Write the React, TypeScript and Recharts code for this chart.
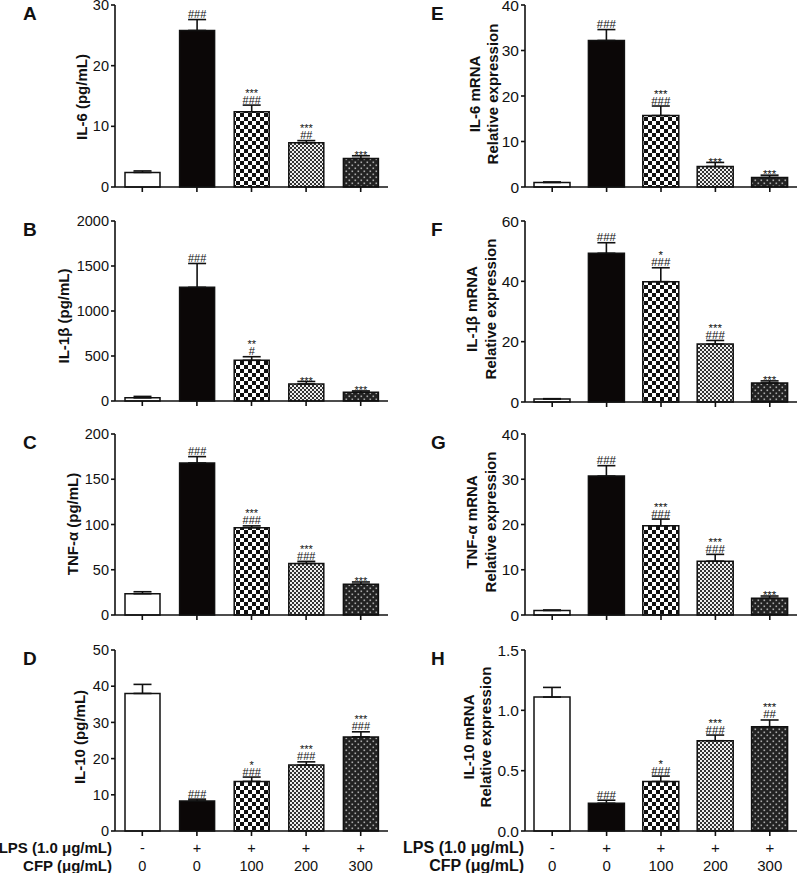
import { Bar, BarChart, Cell, ErrorBar, LabelList, XAxis, YAxis } from 'recharts'

const groups = ['Control', 'LPS', 'LPS+CFP100', 'LPS+CFP200', 'LPS+CFP300']
const lpsRow = ['-', '+', '+', '+', '+']
const cfpRow = ['0', '0', '100', '200', '300']
const barFills = ['#ffffff', '#0b0707', 'url(#chk-large)', 'url(#chk-fine)', 'url(#dots)']

// A  IL-6 protein (pg/mL)
const il6Values = [2.4, 25.8, 12.4, 7.3, 4.7]
const il6Errors = [0.25, 1.8, 1.1, 0.35, 0.45]
const il6Stars = ['', '', '***', '***', '***']
const il6Hashes = ['', '###', '###', '##', '']

// B  IL-1β protein (pg/mL)
const il1bValues = [35, 1263, 452, 189, 97]
const il1bErrors = [16, 265, 40, 28, 15]
const il1bStars = ['', '', '**', '***', '***']
const il1bHashes = ['', '###', '#', '', '']

// C  TNF-α protein (pg/mL)
const tnfValues = [23.5, 168, 96.5, 57, 34]
const tnfErrors = [2.2, 7, 2, 2.3, 2.5]
const tnfStars = ['', '', '***', '***', '***']
const tnfHashes = ['', '###', '###', '###', '']

// D  IL-10 protein (pg/mL)
const il10Values = [38, 8.3, 13.7, 18.2, 26]
const il10Errors = [2.5, 0.5, 1.2, 0.9, 1.4]
const il10Stars = ['', '', '*', '***', '***']
const il10Hashes = ['', '###', '###', '###', '###']

// E  IL-6 mRNA
const il6mValues = [1.0, 32.2, 15.7, 4.5, 2.1]
const il6mErrors = [0.1, 2.4, 2.1, 0.9, 0.5]
const il6mStars = ['', '', '***', '***', '***']
const il6mHashes = ['', '###', '###', '', '']

// F  IL-1β mRNA
const il1bmValues = [1.0, 49.3, 39.9, 19.2, 6.3]
const il1bmErrors = [0.1, 3.5, 4.6, 1.2, 0.7]
const il1bmStars = ['', '', '*', '***', '***']
const il1bmHashes = ['', '###', '###', '###', '']

// G  TNF-α mRNA
const tnfmValues = [1.0, 30.7, 19.7, 11.9, 3.7]
const tnfmErrors = [0.1, 2.3, 1.5, 1.5, 0.5]
const tnfmStars = ['', '', '***', '***', '***']
const tnfmHashes = ['', '###', '###', '###', '']

// H  IL-10 mRNA
const il10mValues = [1.11, 0.23, 0.41, 0.748, 0.864]
const il10mErrors = [0.08, 0.025, 0.045, 0.047, 0.056]
const il10mStars = ['', '', '*', '***', '***']
const il10mHashes = ['', '###', '###', '###', '##']

type PanelDef = {
  letter: string
  title: string[]
  values: number[]
  errors: number[]
  stars: string[]
  hashes: string[]
  max: number
  ticks: number[]
  decimals: number
  col: 0 | 1
  plotTop: number
  plotBottom: number
  titleX: number[]
  titleY: number
  bottom?: boolean
}

const panels: PanelDef[] = [
  { letter: 'A', title: ['IL-6 (pg/mL)'], values: il6Values, errors: il6Errors, stars: il6Stars, hashes: il6Hashes, max: 30, ticks: [0, 10, 20, 30], decimals: 0, col: 0, plotTop: 5, plotBottom: 187, titleX: [81], titleY: 97 },
  { letter: 'B', title: ['IL-1β (pg/mL)'], values: il1bValues, errors: il1bErrors, stars: il1bStars, hashes: il1bHashes, max: 2000, ticks: [0, 500, 1000, 1500, 2000], decimals: 0, col: 0, plotTop: 221, plotBottom: 401, titleX: [63], titleY: 316 },
  { letter: 'C', title: ['TNF-α (pg/mL)'], values: tnfValues, errors: tnfErrors, stars: tnfStars, hashes: tnfHashes, max: 200, ticks: [0, 50, 100, 150, 200], decimals: 0, col: 0, plotTop: 434, plotBottom: 615, titleX: [72], titleY: 524 },
  { letter: 'D', title: ['IL-10 (pg/mL)'], values: il10Values, errors: il10Errors, stars: il10Stars, hashes: il10Hashes, max: 50, ticks: [0, 10, 20, 30, 40, 50], decimals: 0, col: 0, plotTop: 650, plotBottom: 831, titleX: [79.5], titleY: 737, bottom: true },
  { letter: 'E', title: ['IL-6 mRNA', 'Relative expression'], values: il6mValues, errors: il6mErrors, stars: il6mStars, hashes: il6mHashes, max: 40, ticks: [0, 10, 20, 30, 40], decimals: 0, col: 1, plotTop: 5, plotBottom: 187, titleX: [474, 492], titleY: 94 },
  { letter: 'F', title: ['IL-1β mRNA', 'Relative expression'], values: il1bmValues, errors: il1bmErrors, stars: il1bmStars, hashes: il1bmHashes, max: 60, ticks: [0, 20, 40, 60], decimals: 0, col: 1, plotTop: 221, plotBottom: 402, titleX: [471.5, 490], titleY: 309 },
  { letter: 'G', title: ['TNF-α mRNA', 'Relative expression'], values: tnfmValues, errors: tnfmErrors, stars: tnfmStars, hashes: tnfmHashes, max: 40, ticks: [0, 10, 20, 30, 40], decimals: 0, col: 1, plotTop: 434, plotBottom: 615, titleX: [471.5, 490], titleY: 522 },
  { letter: 'H', title: ['IL-10 mRNA', 'Relative expression'], values: il10mValues, errors: il10mErrors, stars: il10mStars, hashes: il10mHashes, max: 1.5, ticks: [0, 0.5, 1.0, 1.5], decimals: 1, col: 1, plotTop: 650, plotBottom: 831, titleX: [468, 485.5], titleY: 737, bottom: true },
]

const INK = '#111'
const TOP_PAD = 12

function Marks(props: any) {
  const { def, value } = props
  const vb = props.viewBox ?? {}
  const x = props.x ?? vb.x
  const y = props.y ?? vb.y
  const w = props.width ?? vb.width
  const h = props.height ?? vb.height
  const i = props.index ?? def.values.indexOf(value)
  if (x == null || i < 0) return null
  const cx = x + w / 2
  const capY = y - (def.errors[i] * Math.abs(h)) / def.values[i]
  const hash = def.hashes[i]
  const star = def.stars[i]
  const size = def.col === 0 ? 11 : 11.5
  return (
    <g fill={INK} fontSize={size} textAnchor="middle">
      {hash && (
        <text x={cx} y={capY - 1.5}>
          {hash}
        </text>
      )}
      {star && (
        <text x={cx} y={hash ? capY - 8.5 : capY + 3.3}>
          {star}
        </text>
      )}
    </g>
  )
}

function GroupTick(props: any) {
  const { x, y, index, bottom, fontSize } = props
  if (!bottom) return <g />
  return (
    <g fill={INK} fontSize={fontSize} textAnchor="middle">
      <text x={x} y={y + 15}>
        {lpsRow[index]}
      </text>
      <text x={x} y={y + 33}>
        {cfpRow[index]}
      </text>
    </g>
  )
}

function Panel({ def }: { def: PanelDef }) {
  const data = groups.map((group, i) => ({
    group,
    value: def.values[i],
    err: [0, def.errors[i]],
  }))
  const left = def.col === 0 ? 0 : 400
  const marginLeft = def.col === 0 ? 55 : 65
  const plotW = def.col === 0 ? 273 : 272
  const xAxisH = def.bottom ? 45 : 12
  const width = marginLeft + 60 + plotW + 3
  const height = TOP_PAD + (def.plotBottom - def.plotTop) + xAxisH
  const tickFont = def.col === 0 ? 14.5 : 15.5
  const axisStyle = { stroke: INK, strokeWidth: 1.6 }

  return (
    <div style={{ position: 'absolute', left, top: def.plotTop - TOP_PAD }}>
      <BarChart
        width={width}
        height={height}
        data={data}
        margin={{ top: TOP_PAD, right: 3, bottom: 0, left: marginLeft }}
        barSize={def.col === 0 ? 35 : 36}
      >
        <XAxis
          dataKey="group"
          interval={0}
          height={xAxisH}
          tickSize={5}
          tickLine={axisStyle}
          axisLine={axisStyle}
          tick={<GroupTick bottom={def.bottom} fontSize={def.col === 0 ? 14.5 : 15} />}
        />
        <YAxis
          width={60}
          domain={[0, def.max]}
          ticks={def.ticks}
          interval={0}
          tickSize={4}
          tickMargin={2}
          tickLine={axisStyle}
          axisLine={axisStyle}
          tick={{ fill: INK, fontSize: tickFont }}
          tickFormatter={(v: number) => v.toFixed(def.decimals)}
        />
        <Bar dataKey="value" isAnimationActive={false}>
          {data.map((d, i) => (
            <Cell key={d.group} fill={barFills[i]} stroke={INK} strokeWidth={1.5} />
          ))}
          <ErrorBar dataKey="err" width={9} stroke={INK} strokeWidth={1.6} isAnimationActive={false} />
          <LabelList dataKey="value" content={(p: any) => <Marks {...p} def={def} />} />
        </Bar>
      </BarChart>
    </div>
  )
}

function Patterns() {
  return (
    <svg width={0} height={0} style={{ position: 'absolute' }}>
      <defs>
        <pattern id="chk-large" width={8} height={8} patternUnits="userSpaceOnUse">
          <rect width={8} height={8} fill="#fff" />
          <rect width={4} height={4} fill="#111" />
          <rect x={4} y={4} width={4} height={4} fill="#111" />
        </pattern>
        <pattern id="chk-fine" width={4} height={4} patternUnits="userSpaceOnUse">
          <rect width={4} height={4} fill="#eee" />
          <rect width={2} height={2} fill="#333" />
          <rect x={2} y={2} width={2} height={2} fill="#333" />
        </pattern>
        <pattern id="dots" width={6} height={6} patternUnits="userSpaceOnUse">
          <rect width={6} height={6} fill="#222" />
          <rect x={0.5} y={0.5} width={1.6} height={1.6} fill="#aaa" />
          <rect x={3.5} y={3.5} width={1.6} height={1.6} fill="#aaa" />
        </pattern>
      </defs>
    </svg>
  )
}

export default function App() {
  return (
    <div
      style={{
        position: 'absolute',
        left: 0,
        top: 0,
        width: 800,
        height: 873,
        overflow: 'hidden',
        background: '#fff',
        fontFamily: '"Liberation Sans", Arial, sans-serif',
      }}
    >
      <Patterns />
      {panels.map((p) => (
        <Panel key={p.letter} def={p} />
      ))}
      <svg width={800} height={873} style={{ position: 'absolute', left: 0, top: 0, pointerEvents: 'none' }}>
        <g fill={INK} fontWeight="bold">
          {panels.map((p) => (
            <text key={p.letter} x={p.col === 0 ? 23 : 431} y={p.plotTop + 15} fontSize={19}>
              {p.letter}
            </text>
          ))}
          {panels.map((p) =>
            p.title.map((line, k) => (
              <text
                key={p.letter + k}
                x={p.titleX[k]}
                y={p.titleY}
                fontSize={15}
                textAnchor="middle"
                dominantBaseline="central"
                transform={`rotate(-90 ${p.titleX[k]} ${p.titleY})`}
              >
                {line}
              </text>
            )),
          )}
          <text x={112} y={853} fontSize={15} textAnchor="end">LPS (1.0 μg/mL)</text>
          <text x={112} y={870.5} fontSize={15} textAnchor="end">CFP (μg/mL)</text>
          <text x={524} y={853} fontSize={16} textAnchor="end">LPS (1.0 μg/mL)</text>
          <text x={524} y={870.5} fontSize={16} textAnchor="end">CFP (μg/mL)</text>
        </g>
      </svg>
    </div>
  )
}
